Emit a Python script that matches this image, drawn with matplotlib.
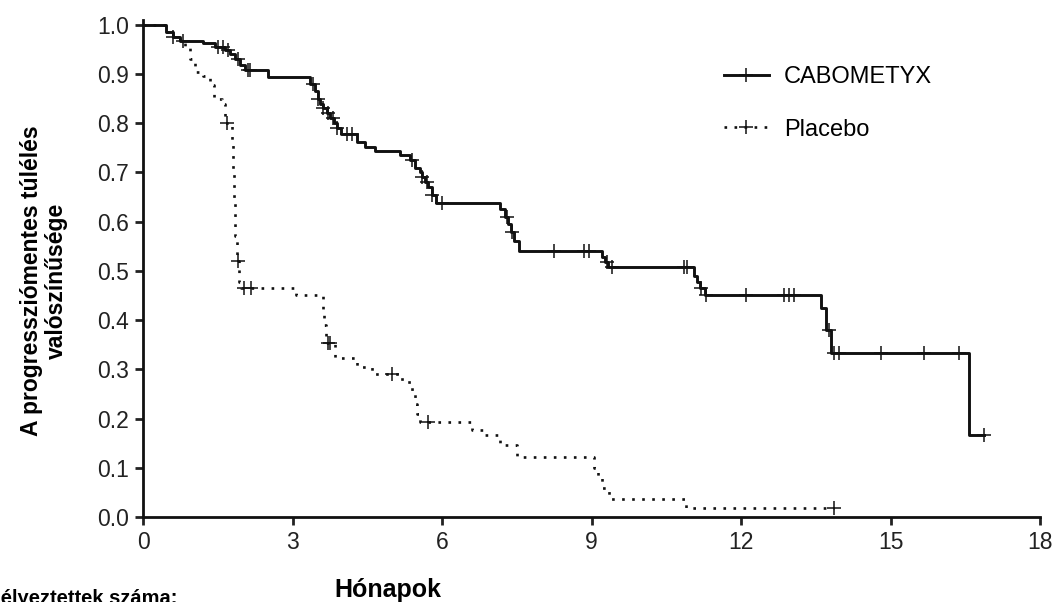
import numpy as np
import matplotlib.pyplot as plt
from matplotlib.lines import Line2D

plt.rcParams['font.family'] = ['Liberation Sans', 'DejaVu Sans']

# Kaplan-Meier steps: time (months) of each drop and survival after it
cabo_t = [0.0, 0.45, 0.6, 0.75, 1.2, 1.45, 1.65, 1.75, 1.85, 1.95, 2.05, 2.5,
          3.35, 3.45, 3.5, 3.55, 3.6, 3.68, 3.75, 3.82, 3.9, 3.97, 4.3, 4.45,
          4.65, 5.15, 5.35, 5.45, 5.55, 5.6, 5.65, 5.72, 5.8, 5.87, 7.15, 7.25,
          7.32, 7.38, 7.45, 7.55, 9.2, 9.27, 9.32, 11.05, 11.12, 11.18, 11.27,
          13.6, 13.7, 13.8, 16.57]
cabo_s = [1.0, 0.985, 0.975, 0.968, 0.962, 0.955, 0.948, 0.94, 0.93, 0.918,
          0.908, 0.893, 0.88, 0.865, 0.85, 0.84, 0.83, 0.82, 0.81, 0.80, 0.79,
          0.778, 0.762, 0.752, 0.744, 0.736, 0.725, 0.71, 0.70, 0.69, 0.68,
          0.67, 0.655, 0.638, 0.625, 0.61, 0.595, 0.58, 0.56, 0.54, 0.528,
          0.518, 0.508, 0.49, 0.478, 0.465, 0.452, 0.425, 0.38, 0.334, 0.167]
cabo_end = 16.87
cabo_cens = [0.6, 0.8, 1.5, 1.6, 1.7, 1.9, 2.1, 2.15, 3.4, 3.5, 3.6, 3.7, 3.8,
             3.9, 4.1, 4.2, 5.4, 5.6, 5.7, 5.8, 6.0, 7.3, 7.4, 8.25, 8.85, 8.95,
             9.3, 9.4, 10.85, 10.92, 11.2, 11.3, 12.1, 12.85, 12.95, 13.05,
             13.75, 13.85, 13.95, 14.8, 15.66, 16.37, 16.87]

plac_t = [0.0, 0.45, 0.6, 0.75, 0.85, 0.95, 1.05, 1.2, 1.35, 1.42, 1.58, 1.65,
          1.78, 1.8, 1.82, 1.85, 1.88, 1.92, 1.97, 3.06, 3.6, 3.63, 3.67, 3.85,
          4.3, 4.6, 5.2, 5.4, 5.45, 5.5, 5.55, 6.6, 6.85, 7.15, 7.5, 9.05,
          9.12, 9.2, 9.35, 10.9]
plac_s = [1.0, 0.985, 0.975, 0.968, 0.955, 0.93, 0.905, 0.895, 0.878, 0.85,
          0.84, 0.80, 0.76, 0.70, 0.64, 0.57, 0.52, 0.478, 0.466, 0.451, 0.42,
          0.39, 0.353, 0.323, 0.305, 0.29, 0.275, 0.25, 0.23, 0.21, 0.193,
          0.177, 0.167, 0.146, 0.122, 0.10, 0.08, 0.06, 0.037, 0.018]
plac_end = 13.85
plac_cens = [1.68, 1.9, 2.02, 2.16, 3.7, 3.75, 5.0, 5.72, 13.85]

x_ticks = [0, 3, 6, 9, 12, 15, 18]
y_ticks = [0.0, 0.1, 0.2, 0.3, 0.4, 0.5, 0.6, 0.7, 0.8, 0.9, 1.0]


def surv_at(times, surv, t):
    idx = np.searchsorted(times, t, side='right') - 1
    return np.asarray(surv)[idx]


fig = plt.figure(figsize=(10.52, 6.02), dpi=100)
ax = fig.add_axes([0.136, 0.141, 0.853, 0.826])

col = '#111111'
dots = (0, (1, 2.8))

# survival curves
ax.step(cabo_t + [cabo_end], cabo_s + [cabo_s[-1]], where='post',
        color=col, lw=2.1)
ax.step(plac_t + [plac_end], plac_s + [plac_s[-1]], where='post',
        color=col, lw=1.9, linestyle=dots)

# censored observations
ax.plot(cabo_cens, surv_at(cabo_t, cabo_s, cabo_cens), '+', color=col,
        ms=10, mew=1.1)
ax.plot(plac_cens, surv_at(plac_t, plac_s, plac_cens), '+', color=col,
        ms=10, mew=1.1)

ax.set_xlim(0, 18)
ax.set_ylim(0, 1.01)
ax.set_xticks(x_ticks)
ax.set_yticks(y_ticks)
ax.set_yticklabels([f'{v:.1f}' for v in y_ticks])
ax.tick_params(direction='out', length=6, width=2, labelsize=16.5,
               colors='#222222', pad=4)
for side in ['top', 'right']:
    ax.spines[side].set_visible(False)
for side in ['left', 'bottom']:
    ax.spines[side].set_linewidth(2)
    ax.spines[side].set_color(col)

fig.text(44 / 1052, 1 - 281 / 602,
         'A progressziómentes túlélés\nvalószínűsége', fontsize=16.5,
         fontweight='bold', rotation=90, ha='center', va='center',
         multialignment='center', linespacing=1.1)
fig.text(388 / 1052, 1 - 590 / 602, 'Hónapok', fontsize=18,
         fontweight='bold', ha='center', va='center')
fig.text(178 / 1052, 1 - 604 / 602, 'Veszélyeztettek száma:', fontsize=14.5,
         fontweight='bold', ha='right', va='baseline')

handles = [
    Line2D([], [], color=col, lw=2.1, marker='+', ms=10, mew=1.1),
    Line2D([], [], color=col, lw=1.9, linestyle=dots, marker='+', ms=10,
           mew=1.1),
]
ax.legend(handles, ['CABOMETYX', 'Placebo'], loc='upper left',
          bbox_to_anchor=(724 / 1052, 1 - 66 / 602),
          bbox_transform=fig.transFigure, frameon=False, fontsize=17,
          borderpad=0, borderaxespad=0, handlelength=1.9, handletextpad=0.65,
          labelspacing=1.3)

fig.savefig('out.png', dpi=100)
